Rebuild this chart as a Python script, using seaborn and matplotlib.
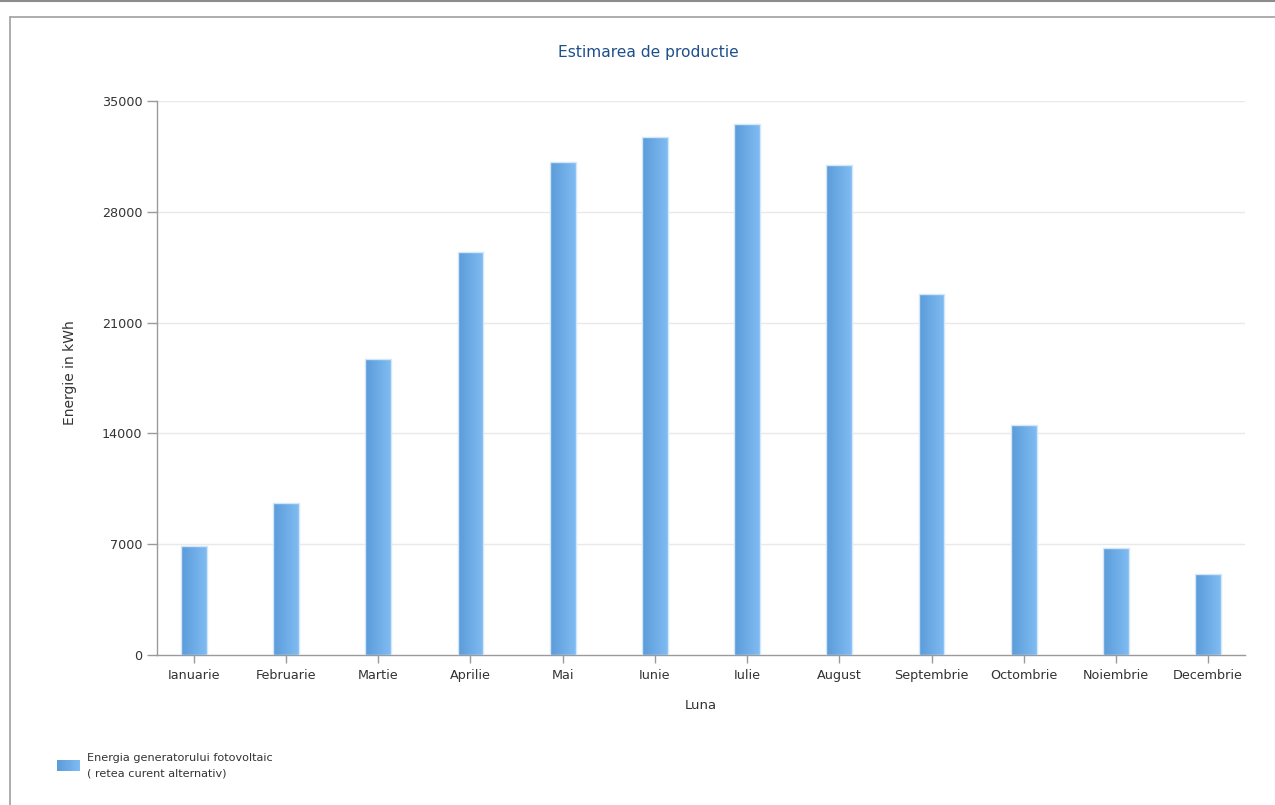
import numpy as np
import pandas as pd
import matplotlib
matplotlib.use("Agg")
import matplotlib.pyplot as plt
from matplotlib.colors import LinearSegmentedColormap
from matplotlib.lines import Line2D
import seaborn as sns

# Monthly estimated production (kWh)
months = ["Ianuarie", "Februarie", "Martie", "Aprilie", "Mai", "Iunie",
          "Iulie", "August", "Septembrie", "Octombrie", "Noiembrie", "Decembrie"]
energy_kwh = [6890, 9580, 18680, 25460, 31140, 32740,
              33540, 30970, 22800, 14550, 6760, 5120]
y_ticks = [0, 7000, 14000, 21000, 28000, 35000]

series_label = "Energia generatorului fotovoltaic\n( retea curent alternativ)"
title_text = "Estimarea de productie"
x_label = "Luna"
y_label = "Energie in kWh"

df = pd.DataFrame({"Luna": months, "Energie": energy_kwh})

sns.set_theme(style="white")
plt.rcParams["font.family"] = ["DejaVu Sans"]

text_color = "#333333"
axis_color = "#9a9a9a"
grid_color = "#e9e9e9"
left_blue = "#5a9bd9"
right_blue = "#80bcf3"

fig = plt.figure(figsize=(12.75, 8.05), dpi=100)
ax = fig.add_axes([157 / 1275, 1 - 655 / 805, (1245 - 157) / 1275, (655 - 101) / 805])

sns.barplot(data=df, x="Luna", y="Energie", width=0.28, color=left_blue,
            saturation=1, ax=ax, zorder=3)

# horizontal gradient fill for each bar
grad_cmap = LinearSegmentedColormap.from_list("bar_grad", [left_blue, right_blue])
gradient = np.linspace(0, 1, 256).reshape(1, -1)
for patch in list(ax.patches):
    x0, y0 = patch.get_x(), patch.get_y()
    w, h = patch.get_width(), patch.get_height()
    img = ax.imshow(gradient, cmap=grad_cmap, aspect="auto",
                    extent=(x0, x0 + w, y0, y0 + h), zorder=3,
                    interpolation="bilinear")
    img.set_clip_path(patch)
    patch.set_facecolor("none")
    patch.set_edgecolor("#d4e7f9")
    patch.set_linewidth(1.0)
    patch.set_zorder(4)

ax.set_xlim(-0.4, 11.4)
ax.set_ylim(0, 35000)
ax.set_yticks(y_ticks)
ax.set_yticklabels([str(v) for v in y_ticks])

for v in y_ticks[1:]:
    ax.axhline(v, color=grid_color, lw=1.0, zorder=1)

for side in ["top", "right"]:
    ax.spines[side].set_visible(False)
for side in ["left", "bottom"]:
    ax.spines[side].set_color(axis_color)
    ax.spines[side].set_linewidth(1.0)

ax.tick_params(axis="y", which="major", direction="out", length=7.5, width=1.0,
               color=axis_color, labelcolor=text_color, labelsize=9.2, pad=3, left=True)
ax.tick_params(axis="x", which="major", direction="out", length=6, width=1.0,
               color=axis_color, labelcolor=text_color, labelsize=9.2, pad=4, bottom=True)

ax.set_xlabel("")
ax.set_ylabel("")
fig.text(70 / 1275, 1 - 373 / 805, y_label, rotation=90, ha="center", va="center",
         fontsize=10, color=text_color)
fig.text(701 / 1275, 1 - 705 / 805, x_label, ha="center", va="center",
         fontsize=9.5, color=text_color)
fig.text(648 / 1275, 1 - 53 / 805, title_text, ha="center", va="center",
         fontsize=11.2, color="#1f4f8a")

# legend swatch with the same gradient
lax = fig.add_axes([57 / 1275, 1 - 771 / 805, 23 / 1275, 11 / 805])
lax.imshow(gradient, cmap=grad_cmap, aspect="auto", extent=(0, 1, 0, 1))
lax.set_axis_off()
fig.text(87 / 1275, 1 - 766 / 805, series_label, ha="left", va="center",
         fontsize=8.1, color=text_color, linespacing=1.65)

# outer frame lines
fig.add_artist(Line2D([0, 1], [1 - 1.5 / 805, 1 - 1.5 / 805], transform=fig.transFigure,
                      color="#8c8c8c", lw=1.5))
fig.add_artist(Line2D([10 / 1275, 1], [1 - 17 / 805, 1 - 17 / 805], transform=fig.transFigure,
                      color="#a0a0a0", lw=1.2))
fig.add_artist(Line2D([10 / 1275, 10 / 1275], [0, 1 - 17 / 805], transform=fig.transFigure,
                      color="#a0a0a0", lw=1.2))

fig.savefig("out.png", dpi=100)
